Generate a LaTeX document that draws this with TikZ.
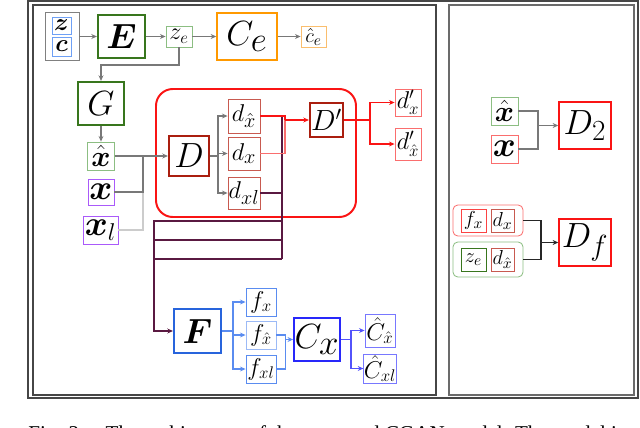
\documentclass[tikz,border=0pt]{standalone}
\usepackage{amsmath, amssymb}
\usepackage{fontspec}
\newfontfamily\capfont{Liberation Serif}
\usetikzlibrary{arrows.meta, positioning, calc}
\definecolor{framegray}{RGB}{70, 70, 70}
\definecolor{arrowgray}{RGB}{120, 120, 120}
\definecolor{encgreen}{RGB}{56, 118, 29}
\definecolor{litgreen}{RGB}{140, 190, 130}
\definecolor{zblue}{RGB}{110, 160, 245}
\definecolor{ceorange}{RGB}{255, 153, 0}
\definecolor{liteorange}{RGB}{250, 190, 110}
\definecolor{xpurple}{RGB}{170, 90, 250}
\definecolor{dred}{RGB}{170, 30, 15}
\definecolor{dbox}{RGB}{200, 90, 80}
\definecolor{brightred}{RGB}{250, 20, 20}
\definecolor{pinkred}{RGB}{250, 110, 110}
\definecolor{busmaroon}{RGB}{90, 25, 65}
\definecolor{fblue}{RGB}{40, 100, 220}
\definecolor{litblue}{RGB}{90, 140, 240}
\definecolor{cxblue}{RGB}{40, 40, 250}
\definecolor{chatblue}{RGB}{120, 120, 255}

\begin{document}
\begin{tikzpicture}[x=0.025cm, y=-0.025cm,
  box/.style={draw, rectangle, inner sep=0pt, line width=0.6pt},
  heavy/.style={box, line width=1.5pt},
  wh/.style 2 args={minimum width=#1*0.025cm, minimum height=#2*0.025cm},
  fs/.style={font=\fontsize{#1}{#1}\selectfont},
  link/.style={draw=arrowgray, line width=0.8pt},
  redline/.style={draw=brightred, line width=0.8pt},
  busline/.style={draw=busmaroon, line width=1pt},
  blueline/.style={draw=litblue, line width=0.8pt},
  tip/.style={-{Stealth[length=4pt, width=3.5pt]}}]
  \useasboundingbox (0,0) rectangle (640,428);

  % Frames
  \draw[framegray, line width=1.3pt] (28,1) rectangle (638,398);
  \draw[framegray, line width=0.8pt] (33,5) rectangle (436,395);
  \draw[framegray!80, line width=0.8pt] (449,5) rectangle (634,395);

  % Encoder row
  \node[box, draw=gray, wh={34}{48}] (zc) at (62,36.5) {};
  \node[box, draw=zblue, wh={19}{17}, fs=18] (z) at (61.5,25.5) {$\boldsymbol{z}$};
  \node[box, draw=zblue, wh={19}{19}, fs=18] (c) at (61.5,46.5) {$\boldsymbol{c}$};
  \node[heavy, draw=encgreen, wh={47}{43}, fs=29] (E) at (121.5,36.5) {$\boldsymbol{E}$};
  \node[box, draw=litgreen, wh={26}{21}, fs=17] (ze) at (179,36.5) {$z_e$};
  \node[box, draw=ceorange, line width=1pt, wh={60}{47}, fs=33] (Ce) at (247,36.5) {$C_e$};
  \node[box, draw=liteorange, wh={25}{21}, fs=15] (ceh) at (313.5,36.5) {$\hat{c}_e$};

  \draw[link, tip] (zc) -- (E);
  \draw[link, tip] (E) -- (ze);
  \draw[link, tip] (ze) -- (Ce);
  \draw[link, tip] (Ce) -- (ceh);

  % Generator and inputs
  \node[heavy, draw=encgreen, wh={46}{43}, fs=29] (G) at (101,103.5) {$G$};
  \node[box, draw=litgreen, wh={27}{28}, fs=21] (xh) at (101,156) {$\hat{\boldsymbol{x}}$};
  \node[box, draw=xpurple, wh={26}{26}, fs=23] (x) at (101,192) {$\boldsymbol{x}$};
  \node[box, draw=xpurple, wh={35}{28}, fs=23] (xl) at (100.5,230) {$\boldsymbol{x}_l$};

  \coordinate (gbend) at (101,65);
  \draw[link, tip] (ze.south) |- (gbend) -- (G.north);
  \draw[link, tip] (G) -- (xh);
  \coordinate (dmerge) at (143,156);
  \draw[link, draw=gray!40] (xl.east) -| (dmerge);
  \draw[link] (x.east) -| (dmerge);
  \draw[link] (xh.east) -- (dmerge);

  % Discriminator block
  \draw[brightred, line width=1.4pt, rounded corners=0.42cm] (156,89) rectangle (356,217);
  \node[heavy, draw=dred, wh={40}{40}, fs=27] (D) at (189,156) {$D$};
  \node[box, draw=dbox, wh={32}{34}, fs=19] (dxh) at (244,116) {$d_{\hat{x}}$};
  \node[box, draw=dbox, wh={32}{33}, fs=19] (dx) at (244,153.5) {$d_x$};
  \node[box, draw=dbox, wh={32}{32}, fs=19] (dxl) at (244,193) {$d_{xl}$};
  \node[heavy, draw=dred, wh={33}{34}, fs=22] (Dp) at (326.5,120) {$D'$};
  \node[box, draw=pinkred, wh={26}{27}, fs=18] (dpx) at (408,102.5) {$d'_x$};
  \node[box, draw=pinkred, wh={26}{32}, fs=18] (dpxh) at (408,144) {$d'_{\hat{x}}$};

  \draw[link, tip] (dmerge) -- (D.west);
  \coordinate (dsplit) at (218,156);
  \draw[link] (D.east) -- (dsplit);
  \draw[link, tip] (dsplit) |- (dxh.west);
  \draw[link, tip] (dsplit) |- (dx.west);
  \draw[link, tip] (dsplit) |- (dxl.west);

  % Bus down to F
  \coordinate (bus1) at (282,221);
  \coordinate (bus2) at (282,240);
  \coordinate (bus3) at (282,259);
  \coordinate (fdrop) at (154,221);
  \draw[busline] (dxh.east) -| (bus3);
  \draw[busline] (dx.east) -- (dx.east -| bus3);
  \draw[busline] (dxl.east) -- (dxl.east -| bus3);
  \draw[busline] (bus2) -- (bus2 -| fdrop);
  \draw[busline] (bus3) -- (bus3 -| fdrop);

  % D' in and out
  \coordinate (dpin) at (285,120);
  \draw[redline, draw=pinkred] (dx.east) -| (dpin);
  \draw[redline] (dxh.east) -| (dpin);
  \draw[redline, tip] (dpin) -- (Dp.west);
  \coordinate (dpsplit) at (370,120);
  \draw[redline] (Dp.east) -- (dpsplit);
  \draw[redline, tip] (dpsplit) |- (dpx.west);
  \draw[redline, tip] (dpsplit) |- (dpxh.west);

  % Feature extractor and classifier
  \node[heavy, draw=fblue, wh={47}{44}, fs=33] (F) at (197.5,331) {$\boldsymbol{F}$};
  \node[box, draw=litblue, wh={30}{28}, fs=18] (fx) at (261,302) {$f_x$};
  \node[box, draw=litblue!60, wh={30}{28}, fs=18] (fxh) at (261,335) {$f_{\hat{x}}$};
  \node[box, draw=litblue, wh={30}{28}, fs=18] (fxl) at (261,369) {$f_{xl}$};
  \node[box, draw=cxblue, line width=1.2pt, wh={46}{43}, fs=33] (Cx) at (317,339.5) {$C_x$};
  \node[box, draw=chatblue, wh={30}{33}, fs=18] (Chx) at (380,330.5) {$\hat{C}_{\hat{x}}$};
  \node[box, draw=chatblue, wh={30}{29}, fs=18] (Chxl) at (380,368.5) {$\hat{C}_{xl}$};

  \draw[busline, tip] (bus1) -- (fdrop) |- (F.west);
  \coordinate (fsplit) at (233,331);
  \draw[blueline] (F.east) -- (fsplit);
  \draw[blueline, tip] (fsplit) |- (fx.west);
  \draw[blueline, tip] (fsplit) |- (fxh.west);
  \draw[blueline, tip] (fsplit) |- (fxl.west);
  \coordinate (cxin) at (285.5,339.5);
  \draw[blueline] (fxh.east) -| (cxin);
  \draw[blueline] (fxl.east) -| (cxin);
  \draw[blueline, tip] (cxin) -- (Cx.west);
  \coordinate (cxsplit) at (351,339.5);
  \draw[blueline, draw=cxblue!80] (Cx.east) -- (cxsplit);
  \draw[blueline, draw=cxblue!80, tip] (cxsplit) |- (Chx.west);
  \draw[blueline, draw=cxblue!80, tip] (cxsplit) |- (Chxl.west);

  % Right panel: D_2
  \node[box, draw=litgreen, wh={27}{28}, fs=21] (rxh) at (504.5,111) {$\hat{\boldsymbol{x}}$};
  \node[box, draw=pinkred, wh={27}{28}, fs=23] (rx) at (504.5,149) {$\boldsymbol{x}$};
  \node[box, draw=brightred, line width=1pt, wh={52}{47}, fs=30] (D2) at (585,125.5) {$D_2$};
  \coordinate (d2in) at (538,125.5);
  \draw[link] (rxh.east) -| (d2in);
  \draw[link] (rx.east) -| (d2in);
  \draw[link, tip] (d2in) -- (D2.west);

  % Right panel: D_f
  \node[box, draw=pinkred, rounded corners=0.12cm, wh={70}{31}] (grpr) at (488,220.5) {};
  \node[box, draw=litgreen, rounded corners=0.12cm, wh={70}{35}] (grpg) at (488,259.5) {};
  \node[box, draw=brightred!80, wh={25}{23}, fs=15] (rfx) at (473.5,220.5) {$f_x$};
  \node[box, draw=dbox, wh={23}{23}, fs=15] (rdx) at (502.5,220.5) {$d_x$};
  \node[box, draw=encgreen, wh={25}{23}, fs=15] (rze) at (473.5,259.5) {$z_e$};
  \node[box, draw=dbox, wh={23}{23}, fs=15] (rdxh) at (502.5,259.5) {$d_{\hat{x}}$};
  \node[box, draw=brightred, line width=1pt, wh={52}{47}, fs=30] (Df) at (585,242.5) {$D_f$};
  \coordinate (dfin) at (541,242.5);
  \draw[draw=black!85, line width=1pt] (grpr.east) -| (dfin);
  \draw[draw=black!85, line width=1pt] (grpg.east) -| (dfin);
  \draw[draw=black!85, line width=1pt, tip] (dfin) -- (Df.west);

  % Caption (cut by the page edge)
  \node[anchor=base west, inner sep=0pt, font=\capfont\fontsize{15}{15}\selectfont] (cap) at (28,440) {Fig. 2.\quad The architecture of the proposed CGAN model. The model is};
\end{tikzpicture}
\end{document}
